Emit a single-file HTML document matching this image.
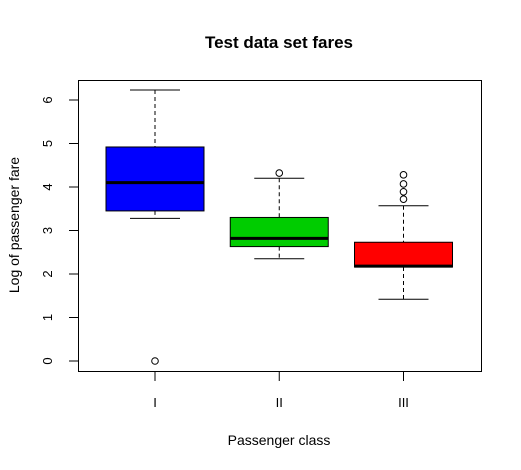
<!DOCTYPE html>
<html><head><meta charset="utf-8"><style>body{margin:0;background:#fff}svg{display:block;font-family:"Liberation Sans",Arial,sans-serif}</style></head>
<body>
<svg id="c" width="521" height="470">
<rect width="521" height="470" fill="#fff"/>
<text x="279" y="48" text-anchor="middle" font-size="17" font-weight="bold">Test data set fares</text>
<text x="279" y="445" text-anchor="middle" font-size="14">Passenger class</text>
<text transform="translate(19,225) rotate(-90)" text-anchor="middle" font-size="14">Log of passenger fare</text>
<rect x="78.5" y="80.5" width="403" height="291" fill="none" stroke="#000"/>
<g id="g"></g>
</svg>
<script>
const categories=["I","II","III"];
const colors=["#0000ff","#00cc00","#ff0000"];
const whiskerLow=[3.28,2.35,1.42];
const q1=[3.45,2.63,2.16];
const median=[4.10,2.82,2.18];
const q3=[4.92,3.30,2.73];
const whiskerHigh=[6.23,4.20,3.57];
const outliers=[[0],[4.32],[4.28,4.07,3.89,3.72]];
const yTicks=[0,1,2,3,4,5,6];
const NS="http://www.w3.org/2000/svg";
const g=document.getElementById("g");
const y=v=>361-43.5*v;
const x=i=>155+124.25*i;
function el(t,a){const e=document.createElementNS(NS,t);for(const k in a)e.setAttribute(k,a[k]);g.appendChild(e);return e;}
yTicks.forEach(t=>{
 let l=el("line",{x1:69,x2:78,y1:y(t),y2:y(t),stroke:"#000"});
 
 
 let tx=el("text",{transform:`translate(52,${y(t)}) rotate(-90)`,"text-anchor":"middle","font-size":"13"});
 tx.textContent=t;
 
 
});
categories.forEach((c,i)=>{
 const cx=x(i),hw=49,cw=25;
 let l=el("line",{x1:cx,x2:cx,y1:372,y2:381,stroke:"#000"});
 
 
 let tx=el("text",{x:cx,y:407,"text-anchor":"middle","font-size":"13"});
 tx.textContent=c;
 
 
 let w=el("line",{x1:cx,x2:cx,y1:y(whiskerHigh[i]),y2:y(q3[i]),stroke:"#000","stroke-dasharray":"4,3"});
 
 
 w=el("line",{x1:cx,x2:cx,y1:y(q1[i]),y2:y(whiskerLow[i]),stroke:"#000","stroke-dasharray":"4,3"});
 
 
 [whiskerHigh[i],whiskerLow[i]].forEach(v=>{
  let cp=el("line",{x1:cx-cw,x2:cx+cw,y1:y(v),y2:y(v),stroke:"#000"});
  
  
 });
 let b=el("rect",{x:cx-hw,y:y(q3[i]),width:2*hw,height:y(q1[i])-y(q3[i]),fill:colors[i],stroke:"#000"});
 
 
 let m=el("line",{x1:cx-hw,x2:cx+hw,y1:y(median[i]),y2:y(median[i]),stroke:"#000","stroke-width":3});
 
 
 outliers[i].forEach(v=>{
  let o=el("circle",{cx:cx,cy:y(v),r:3.3,fill:"none",stroke:"#000"});
  
  
 });
});
</script>
</body></html>
